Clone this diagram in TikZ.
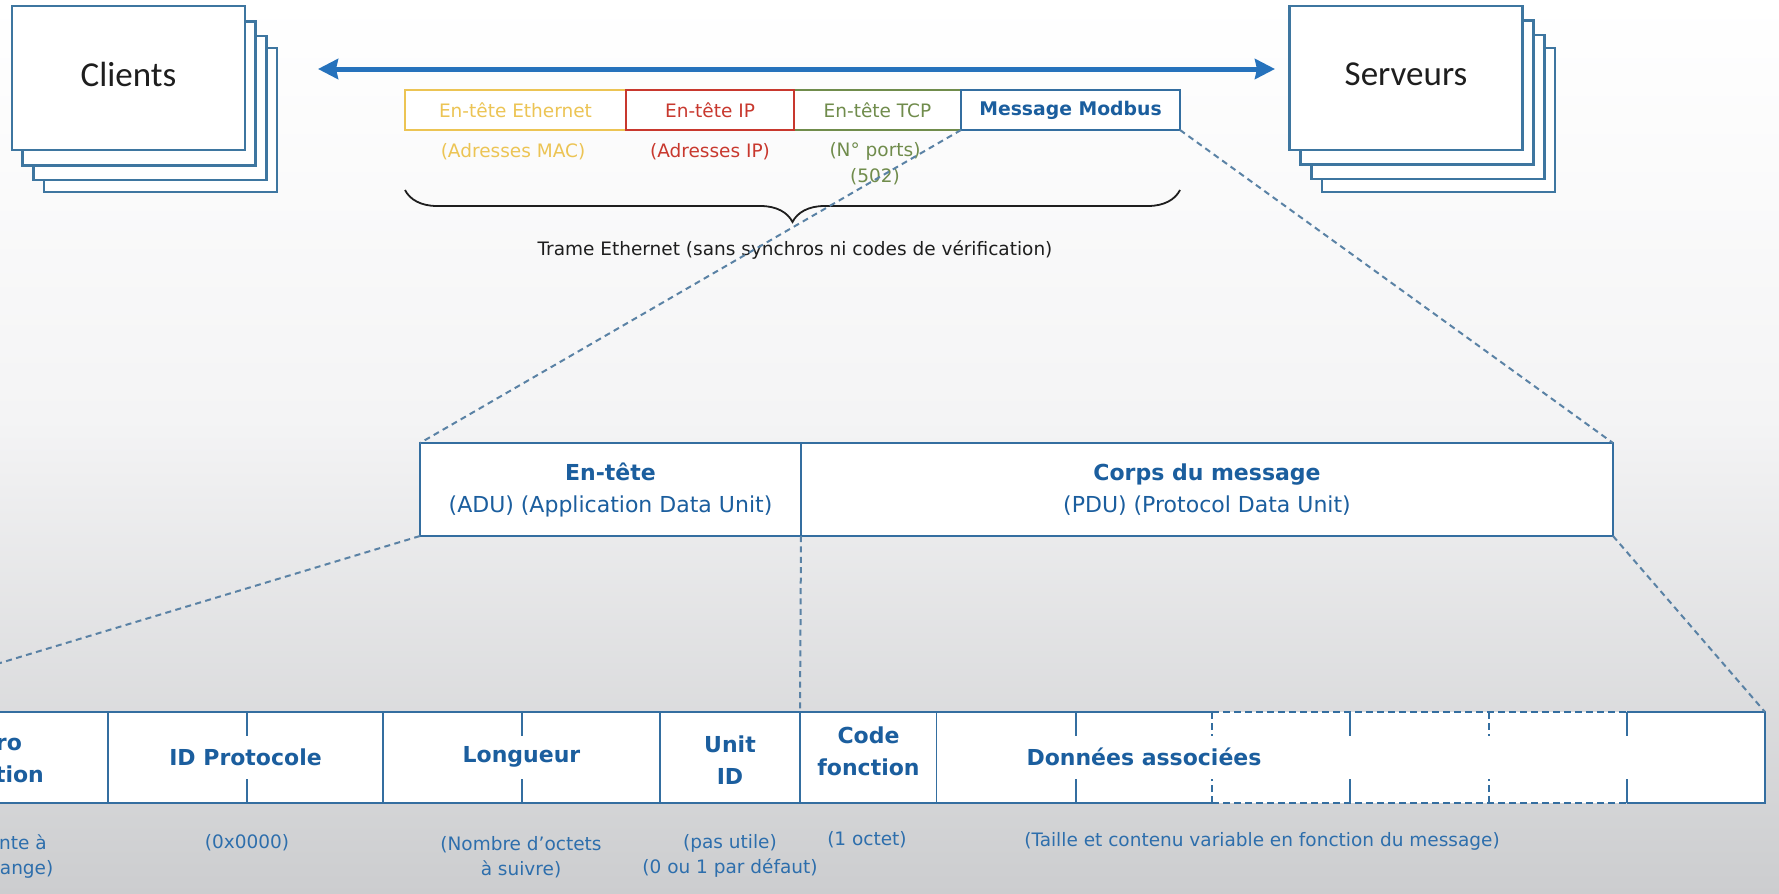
\documentclass[tikz,border=0pt]{standalone}
\usepackage{fontspec}
\setmainfont{DejaVu Sans}
\newfontfamily\carlito{Carlito}
\usetikzlibrary{arrows.meta,decorations.pathreplacing}

\definecolor{bordc}{RGB}{52,110,160}
\definecolor{stackc}{RGB}{62,118,160}
\definecolor{arrowc}{RGB}{38,114,188}
\definecolor{bluet}{RGB}{27,94,158}
\definecolor{bluel}{RGB}{45,110,172}
\definecolor{yelc}{RGB}{236,196,84}
\definecolor{redc}{RGB}{200,56,46}
\definecolor{grnc}{RGB}{112,140,76}
\definecolor{dashc}{RGB}{90,130,165}
\definecolor{darkt}{RGB}{30,30,30}
\definecolor{bgmid}{RGB}{244,244,245}
\definecolor{bgbot}{RGB}{204,205,207}

\begin{document}
\begin{tikzpicture}[x=0.5pt,y=-0.5pt,
  every node/.style={outer sep=0pt},
  stackbox/.style={draw=stackc, line width=1.3pt, fill=white, minimum width=116.5pt, minimum height=72pt, inner sep=0pt},
  toplabel/.style={font=\carlito\fontsize{17.5}{20}\selectfont, text=darkt},
  topbox/.style={line width=1pt, fill=white, minimum height=20pt, inner sep=0pt, font=\fontsize{9.25}{11}\selectfont},
  sublab/.style={font=\fontsize{9.25}{13}\selectfont, align=center, inner sep=0pt},
  midbox/.style={draw=bordc, line width=1.25pt, fill=white, minimum height=46.5pt, inner sep=0pt, align=center, text=bluet, font=\fontsize{11}{16}\selectfont},
  cellbox/.style={draw=bordc, line width=1.25pt, fill=white, minimum height=45.5pt, inner sep=0pt, align=center, text=bluet, font=\bfseries\fontsize{11}{16}\selectfont},
  celltext/.style={text=bluet, font=\bfseries\fontsize{11}{16}\selectfont, inner sep=0pt, align=center},
  cellline/.style={draw=bordc, line width=1.25pt},
  celldash/.style={draw=bordc, line width=1.25pt, dash pattern=on 3.5pt off 2pt},
  botsub/.style={font=\fontsize{9.25}{12.5}\selectfont, text=bluel, align=center, inner sep=0pt},
  conn/.style={draw=dashc, line width=1pt, dash pattern=on 3pt off 2.2pt},
  bigarrow/.style={draw=arrowc, line width=2.5pt, {Stealth[length=10pt,width=10pt,inset=1pt]}-{Stealth[length=10pt,width=10pt,inset=1pt]}}
]
\useasboundingbox (0,0) rectangle (1779,894);
\clip (0,0) rectangle (1779,894);
\shade[top color=white, bottom color=bgmid] (0,0) rectangle (1779,420);
\shade[top color=bgmid, bottom color=bgbot] (0,419) rectangle (1779,894);

% Clients stack
\node[stackbox] (cl4) at (160.5,120) {};
\node[stackbox] (cl3) at (150,108) {};
\node[stackbox] (cl2) at (139,93.5) {};
\node[stackbox, toplabel] (clients) at (128.5,78) {};
\node[toplabel, inner sep=0pt] (clientst) at (128.5,74) {Clients};

% Serveurs stack
\node[stackbox] (sv4) at (1438.5,120) {};
\node[stackbox] (sv3) at (1428,107) {};
\node[stackbox] (sv2) at (1417,92.5) {};
\node[stackbox, toplabel] (serveurs) at (1406,78) {};
\node[toplabel, inner sep=0pt] (serveurst) at (1406,74) {Serveurs};

% double arrow
\coordinate (la) at (318,69);
\coordinate (ra) at (1275,69);
\draw[bigarrow] (la) -- (ra);

% top frame
\node[topbox, draw=yelc, text=yelc, minimum width=110.5pt] (eth) at (515.5,110) {En-tête Ethernet};
\node[topbox, draw=grnc, text=grnc, minimum width=83.5pt] (tcp) at (877.5,110) {En-tête TCP};
\node[topbox, draw=bordc, text=bluet, minimum width=109.5pt, font=\bfseries\fontsize{9.4}{11}\selectfont] (mod) at (1070.5,110) {Message Modbus};
\node[topbox, draw=redc, text=redc, minimum width=84pt] (ip) at (710,110) {En-tête IP};

\node[sublab, text=yelc] (ethsub) at (513,152) {(Adresses MAC)};
\node[sublab, text=redc] (ipsub) at (710,152) {(Adresses IP)};
\node[sublab, text=grnc] (tcpsub) at (875,164) {(N° ports)\\(502)};

\draw[decorate, decoration={brace, amplitude=16pt}, line width=0.9pt, darkt] (1180,190) -- (405,190);
\node[sublab, text=darkt] (trame) at (795,250) {Trame Ethernet (sans synchros ni codes de vérification)};

% middle frame
\node[midbox, minimum width=190.5pt] (adu) at (610.5,489.5) {\textbf{En-tête}\\(ADU) (Application Data Unit)};
\node[midbox, minimum width=406pt] (pdu) at (1207,489.5) {\textbf{Corps du message}\\(PDU) (Protocol Data Unit)};

% bottom frame
\node[cellbox, minimum width=135pt] (c0) at (-27,757.5) {Numéro\\transaction};
\node[cellbox, minimum width=137.5pt] (c1) at (245.5,757.5) {ID Protocole};
\node[cellbox, minimum width=138.5pt] (c2) at (521.5,757.5) {};
\node[celltext] (c2t) at (521.5,757) {Longueur};
\node[cellbox, minimum width=70pt] (c3) at (730,757.5) {};
\node[celltext] (c3t) at (730,760) {Unit\\ID};
\node[cellbox, minimum width=68.5pt] (c4) at (868.5,757.5) {};
\node[celltext] (c4t) at (868.5,751) {Code\\fonction};
\node[cellbox, draw=none, minimum width=414pt] (c5) at (1351,757.5) {};
\node[celltext] (donnees) at (1144,757) {Données associées};

% data cell borders
\draw[cellline] (c5.north west) -- (1212,712) (c5.south west) -- (1212,803);
\draw[celldash] (1212,712) -- (1627,712) (1212,803) -- (1627,803);
\draw[cellline] (1627,712) -- (c5.north east) -- (c5.south east) -- (1627,803);

% byte ticks
\foreach \x in {-27,247,522,1076,1350,1627}{
  \draw[cellline] (\x,712) -- ++(0,24) (\x,803) -- ++(0,-24);
}
\foreach \x in {1212,1489}{
  \draw[celldash] (\x,712) -- ++(0,24) (\x,803) -- ++(0,-24);
}

% bottom sub labels
\node[botsub] (c0sub) at (-27,857) {(S'incrémente à\\chaque échange)};
\node[botsub] (c1sub) at (247,843) {(0x0000)};
\node[botsub] (c2sub) at (521,857) {(Nombre d’octets\\à suivre)};
\node[botsub] (c3sub) at (730,855.5) {(pas utile)\\(0 ou 1 par défaut)};
\node[botsub] (c4sub) at (867,840) {(1 octet)};
\node[botsub] (c5sub) at (1262,841) {(Taille et contenu variable en fonction du message)};

% dashed zoom connectors
\draw[conn] (mod.south west) -- (adu.north west);
\draw[conn] (mod.south east) -- (pdu.north east);
\draw[conn] (adu.south west) -- (c0.north west);
\draw[conn] (adu.south east) -- (c4.north west);
\draw[conn] (pdu.south east) -- (c5.north east);
\end{tikzpicture}
\end{document}
